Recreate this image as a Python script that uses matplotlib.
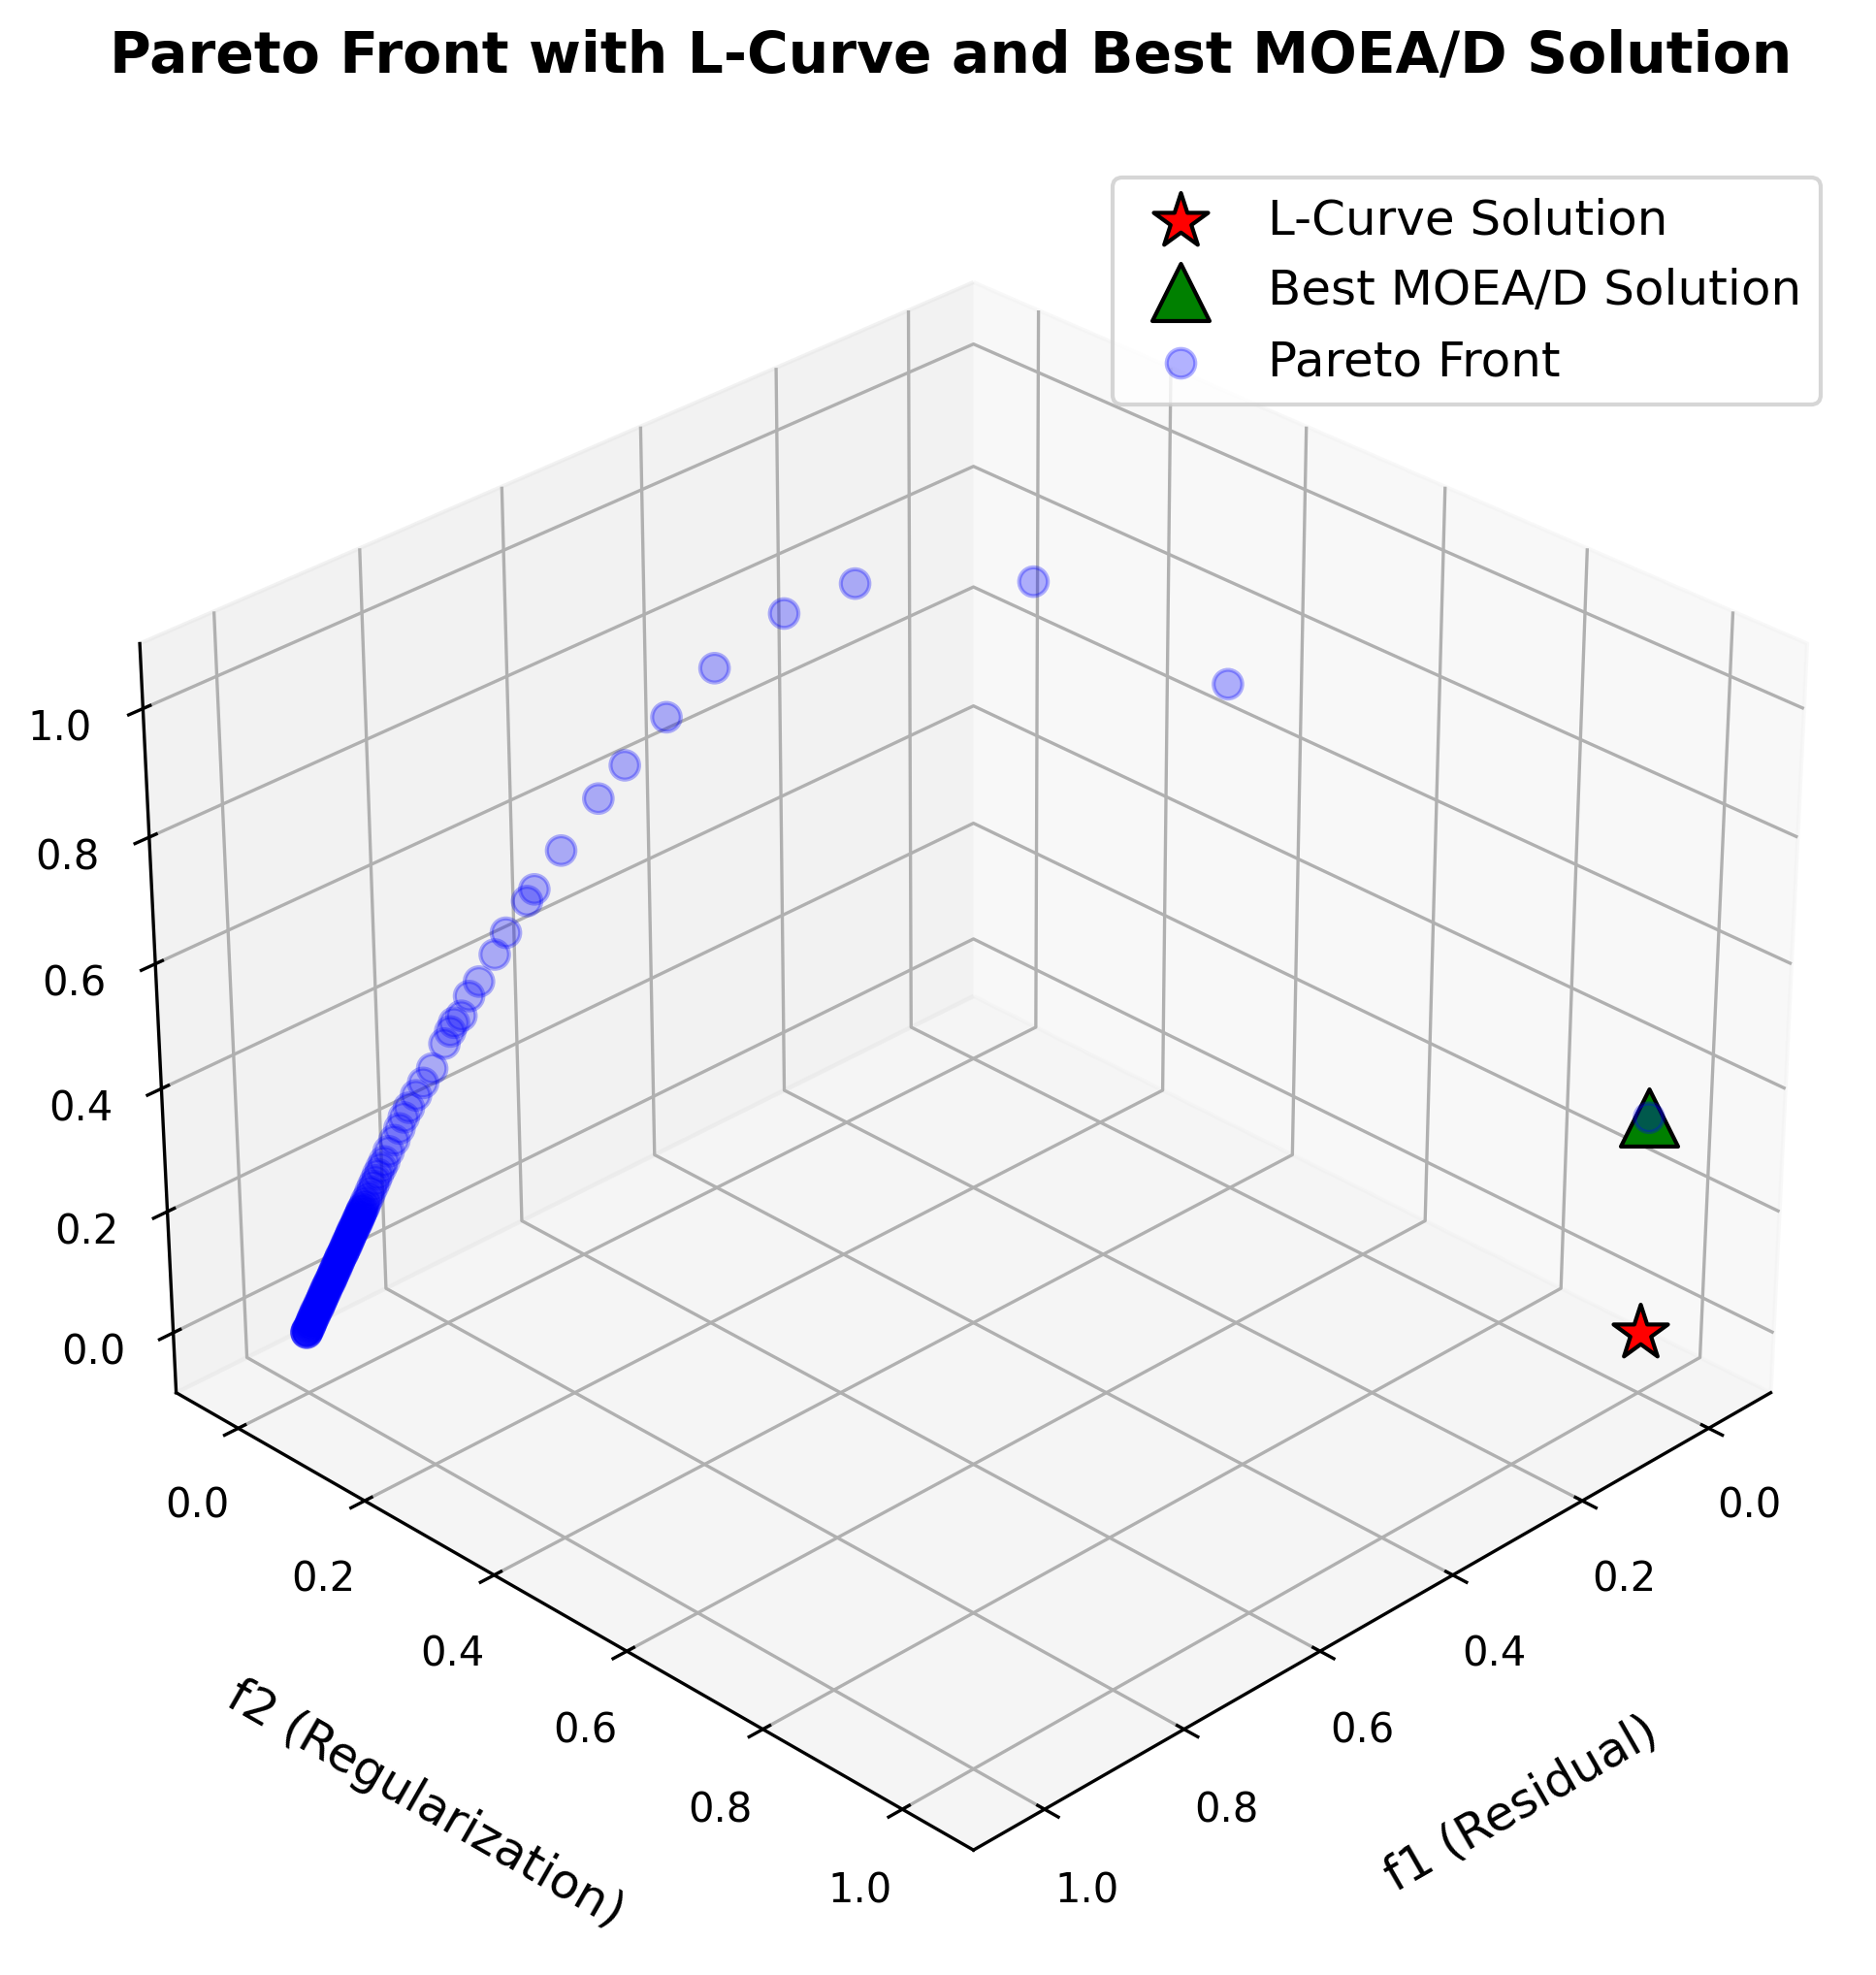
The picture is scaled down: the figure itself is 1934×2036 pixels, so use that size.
import matplotlib
matplotlib.use("Agg")
import matplotlib.pyplot as plt

title = "Pareto Front with L-Curve and Best MOEA/D Solution"
f1_label = "f1 (Residual)"
f2_label = "f2 (Regularization)"
tick_values = [0.0, 0.2, 0.4, 0.6, 0.8, 1.0]
lcurve_f = [0.0, 1.0, 0.0]
moead_f = [0.0, 1.0, 0.353]
f1 = [0.0,0.216,0.246,0.4197,0.5118,0.5969,0.6525,0.699,0.7275,0.7666,0.7936,0.8006,0.8215,0.8325,0.8475,0.857,0.8645,0.871,0.875,0.880,0.8915,0.8995,0.906,0.9125,0.917,0.9205,0.9255,0.930,
      0.934,0.936,0.939,0.941,0.943,0.945,0.947,0.949,0.950,0.951,0.953,0.954,0.955,0.956,0.957,0.959,0.960,0.961,0.962,0.963,0.965,0.966,0.967,0.968,0.969,0.971,0.972,0.973,0.974,0.975,0.977,0.978,0.979,0.980,0.981,0.983,0.984,0.985,0.986,0.987,0.989,0.990,0.991,0.992,0.993,0.995,0.996,0.997,0.998,0.999,1.0,
      0.952,0.953,0.954,0.956,0.957,0.958,0.959,0.960,0.962,0.963,0.964,0.965,0.966,0.968,0.969,0.970,0.971,0.972,0.974,0.975,0.976,0.977,0.978,0.980,0.981,0.982,0.983,0.984,0.986,0.987,0.988,0.989,0.990,0.992,0.993,0.994,0.995,0.996,0.997,0.999,1.0,1.0,1.0]
f2 = [1.0,0.589,0.335,0.2453,0.2342,0.2181,0.2035,0.189,0.1785,0.1624,0.1494,0.1454,0.1345,0.1285,0.1195,0.114,0.1095,0.105,0.103,0.099,0.0915,0.0855,0.081,0.0765,0.073,0.0695,0.0665,0.062,
      0.059,0.056,0.054,0.052,0.050,0.048,0.047,0.045,0.044,0.043,0.042,0.041,0.040,0.039,0.038,0.037,0.035,0.034,0.033,0.032,0.031,0.030,0.029,0.028,0.027,0.026,0.025,0.024,0.023,0.022,0.021,0.020,0.019,0.018,0.016,0.015,0.014,0.013,0.012,0.011,0.010,0.009,0.008,0.007,0.006,0.005,0.004,0.003,0.002,0.001,0.0,
      0.042,0.041,0.040,0.039,0.038,0.037,0.036,0.035,0.034,0.033,0.032,0.031,0.030,0.029,0.028,0.026,0.025,0.024,0.023,0.022,0.021,0.020,0.019,0.018,0.017,0.016,0.015,0.014,0.013,0.012,0.011,0.010,0.009,0.007,0.006,0.005,0.004,0.003,0.002,0.001,0.0,0.0,0.0]
f3 = [0.353,0.94,0.99,1.028,1.021,0.97,0.914,0.855,0.812,0.742,0.688,0.671,0.626,0.594,0.554,0.533,0.503,0.493,0.48,0.461,0.423,0.401,0.382,0.363,0.348,0.33,0.312,0.294,
      0.278,0.267,0.257,0.247,0.238,0.229,0.221,0.214,0.208,0.203,0.198,0.193,0.188,0.183,0.178,0.173,0.168,0.163,0.158,0.153,0.148,0.143,0.138,0.133,0.128,0.123,0.118,0.113,0.108,0.103,0.098,0.093,0.088,0.083,0.078,0.073,0.068,0.063,0.058,0.053,0.048,0.043,0.038,0.033,0.028,0.023,0.018,0.013,0.008,0.004,0.0,
      0.2005,0.1955,0.1905,0.1855,0.1805,0.1755,0.1705,0.1655,0.1605,0.1555,0.1505,0.1455,0.1405,0.1355,0.1305,0.1255,0.1205,0.1155,0.1105,0.1055,0.1005,0.0955,0.0905,0.0855,0.0805,0.0755,0.0705,0.0655,0.0605,0.0555,0.0505,0.0455,0.0405,0.0355,0.0305,0.0255,0.0205,0.0155,0.0105,0.006,0.002,0.001,0.0]

fig = plt.figure(figsize=(1934/300, 2036/300), dpi=300)
ax = fig.add_axes([0.013, 0.0145, 0.986, 0.907], projection="3d")
ax.scatter(*[[v] for v in lcurve_f], c="red", marker="*", s=200, edgecolors="k", label="L-Curve Solution")
ax.scatter(*[[v] for v in moead_f], c="green", marker="^", s=200, edgecolors="k", label="Best MOEA/D Solution")
ax.scatter(f1, f2, f3, c="blue", s=50, alpha=0.3, edgecolors="b", label="Pareto Front")
ax.set_xlim(-0.1, 1.1); ax.set_ylim(-0.1, 1.1); ax.set_zlim(-0.1, 1.1)
ax.set_xticks(tick_values); ax.set_yticks(tick_values); ax.set_zticks(tick_values)
ax.view_init(elev=30, azim=45)
ax.set_xlabel(f1_label, fontsize=12, labelpad=16)
ax.set_ylabel(f2_label, fontsize=12, labelpad=16)
ax.tick_params(labelsize=10)
fig.text(0.5067, 0.9715, title, ha="center", va="center", fontsize=14, fontweight="bold")
ax.legend(loc="upper right", bbox_to_anchor=(0.9705, 0.910), bbox_transform=fig.transFigure, borderaxespad=0, fontsize=12)
fig.savefig("out.png", dpi=300)
